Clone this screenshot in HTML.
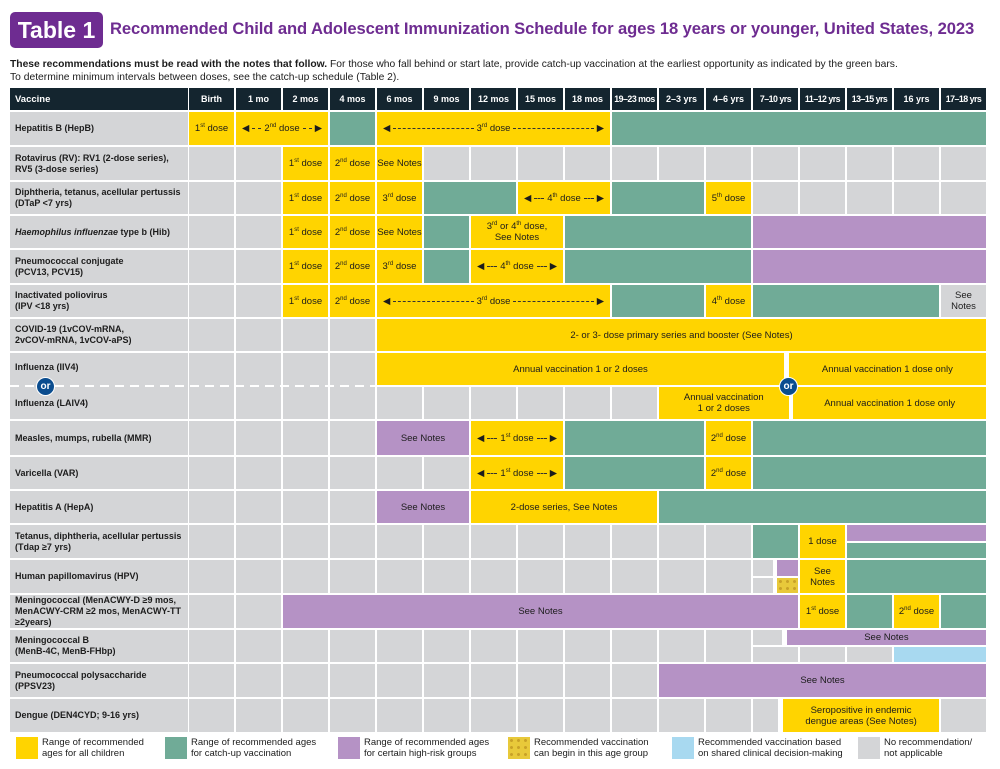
<!DOCTYPE html>
<html><head><meta charset="utf-8">
<style>
body{margin:0;width:1000px;height:769px;background:#fff;font-family:"Liberation Sans",sans-serif;position:relative;overflow:hidden;color:#1c1c1c}
.a{position:absolute;box-sizing:border-box}
.c{display:flex;align-items:center;justify-content:center;text-align:center;font-size:9.5px;line-height:11px}
.lab{font-size:9px;font-weight:bold;line-height:11px;padding-left:5px;display:flex;align-items:center}
.hd{background:#14252f;color:#fff;font-weight:bold;font-size:9.5px;white-space:nowrap}
sup{font-size:6px;vertical-align:4px;line-height:0}
.arr{display:flex;align-items:center;width:100%;padding:0 6px;box-sizing:border-box;white-space:nowrap}
.arr i{flex:1;border-top:1px dashed #333;margin:0 3px}
.lg{font-size:9.5px;line-height:11px}
</style></head><body>
<div class="a" style="left:10px;top:12px;width:93px;height:36px;background:#6e2c91;border-radius:5px;color:#fff;font-weight:bold;font-size:23px;display:flex;align-items:center;justify-content:center">Table 1</div>
<div class="a" style="left:110px;top:19px;font-size:16.6px;font-weight:bold;color:#6e2c91;white-space:nowrap;letter-spacing:-0.1px">Recommended Child and Adolescent Immunization Schedule for ages 18 years or younger, United States, 2023</div>
<div class="a" style="left:10px;top:59px;font-size:10.3px;line-height:12.5px;white-space:nowrap"><b>These recommendations must be read with the notes that follow.</b> For those who fall behind or start late, provide catch-up vaccination at the earliest opportunity as indicated by the green bars.<br>To determine minimum intervals between doses, see the catch-up schedule (Table 2).</div>
<div id="grid"></div>
<script>
const ages=["Birth","1 mo","2 mos","4 mos","6 mos","9 mos","12 mos","15 mos","18 mos","19–23 mos","2–3 yrs","4–6 yrs","7–10 yrs","11–12 yrs","13–15 yrs","16 yrs","17–18 yrs"];
const vaccines=["Hepatitis B (HepB)","Rotavirus (RV): RV1 (2-dose series),<br>RV5 (3-dose series)","Diphtheria, tetanus, acellular pertussis<br>(DTaP &lt;7 yrs)","<i>Haemophilus influenzae</i> type b (Hib)","Pneumococcal conjugate<br>(PCV13, PCV15)","Inactivated poliovirus<br>(IPV &lt;18 yrs)","COVID-19 (1vCOV-mRNA,<br>2vCOV-mRNA, 1vCOV-aPS)","FLU","Measles, mumps, rubella (MMR)","Varicella (VAR)","Hepatitis A (HepA)","Tetanus, diphtheria, acellular pertussis<br>(Tdap ≥7 yrs)","Human papillomavirus (HPV)","Meningococcal (MenACWY-D ≥9 mos,<br>MenACWY-CRM ≥2 mos, MenACWY-TT<br>≥2years)","Meningococcal B<br>(MenB-4C, MenB-FHbp)","Pneumococcal polysaccharide<br>(PPSV23)","Dengue (DEN4CYD; 9-16 yrs)"];
const rowTops=[112,147,182,216,250,285,319,353,421,457,491,525,560,595,630,664,699];
const rowBots=[145,180,214,248,283,317,351,419,455,489,523,558,593,628,662,697,732];
const d1="1<sup>st</sup> dose",d2="2<sup>nd</sup> dose",d3="3<sup>rd</sup> dose",SN="See Notes";
function A(t){return "ARR:"+t}
const spans=[
[[0,1,"Y",d1],[1,3,"Y",A(d2)],[3,4,"G"],[4,9,"Y",A(d3)],[9,17,"G"]],
[[2,3,"Y",d1],[3,4,"Y",d2],[4,5,"Y",SN]],
[[2,3,"Y",d1],[3,4,"Y",d2],[4,5,"Y",d3],[5,7,"G"],[7,9,"Y",A("4<sup>th</sup> dose")],[9,11,"G"],[11,12,"Y","5<sup>th</sup> dose"]],
[[2,3,"Y",d1],[3,4,"Y",d2],[4,5,"Y",SN],[5,6,"G"],[6,8,"Y","3<sup>rd</sup> or 4<sup>th</sup> dose,<br>See Notes"],[8,12,"G"],[12,17,"P"]],
[[2,3,"Y",d1],[3,4,"Y",d2],[4,5,"Y",d3],[5,6,"G"],[6,8,"Y",A("4<sup>th</sup> dose")],[8,12,"G"],[12,17,"P"]],
[[2,3,"Y",d1],[3,4,"Y",d2],[4,9,"Y",A(d3)],[9,11,"G"],[11,12,"Y","4<sup>th</sup> dose"],[12,16,"G"],[16,17,"N","See<br>Notes"]],
[[4,17,"Y","2- or 3- dose primary series and booster (See Notes)"]],
[[4,12.7,"Y","Annual vaccination 1 or 2 doses","t"],[12.76,17,"Y","Annual vaccination 1 dose only","t"],[10,12.8,"Y","Annual vaccination<br>1 or 2 doses","b"],[12.86,17,"Y","Annual vaccination 1 dose only","b"],[4,5,"N","","b"],[5,6,"N","","b"],[6,7,"N","","b"],[7,8,"N","","b"],[8,9,"N","","b"],[9,10,"N","","b"]],
[[4,6,"P",SN],[6,8,"Y",A(d1)],[8,11,"G"],[11,12,"Y",d2],[12,17,"G"]],
[[6,8,"Y",A(d1)],[8,11,"G"],[11,12,"Y",d2],[12,17,"G"]],
[[4,6,"P",SN],[6,10,"Y","2-dose series, See Notes"],[10,17,"G"]],
[[12,13,"G"],[13,14,"Y","1 dose"],[14,17,"P","","t"],[14,17,"G","","b"]],
[[12,12.47,"N","","t"],[12.5,13,"P","","t"],[12,12.47,"N","","b"],[12.5,13,"D","","b"],[13,14,"Y","See<br>Notes"],[14,17,"G"]],
[[2,13,"P",SN],[13,14,"Y",d1],[14,15,"G"],[15,16,"Y",d2],[16,17,"G"]],
[[12,12.66,"N","","t"],[12.72,17,"P",SN,"t"],[12,13,"N","","b"],[13,14,"N","","b"],[14,15,"N","","b"],[15,17,"B","","b"]],
[[10,17,"P",SN]],
[[12,12.58,"N"],[12.64,16,"Y","Seropositive in endemic<br>dengue areas (See Notes)"]]
];
const colors={Y:"#ffd400",G:"#70ab97",P:"#b592c5",N:"#d4d5d7",B:"#a8d9f0",D:"#e8c93a"};
const g=document.getElementById('grid');
function X(c){return 189+47*c}
function add(x,y,w,h,cls,html,st){const e=document.createElement('div');e.className='a '+cls;e.style.cssText=`left:${x}px;top:${y}px;width:${w}px;height:${h}px;`+(st||'');e.innerHTML=html||'';g.appendChild(e);return e}
let e=add(10,88,178,22,'hd lab','Vaccine');


ages.forEach((a,i)=>{const h=add(X(i),88,45,22,'hd c',a,'font-size:'+(a.length>7?'8.8px;letter-spacing:-0.5px':'9px'));

});
vaccines.forEach((v,r)=>{
 const t=rowTops[r],b=rowBots[r],h=b-t,mid=Math.round((t+b)/2);
 let lab;
 if(v==="FLU"){lab=add(10,t,178,h,'lab','','background:#d4d5d7;display:block');
  lab.innerHTML='<div style="position:absolute;top:9px;left:5px">Influenza (IIV4)</div><div style="position:absolute;top:45px;left:5px">Influenza (LAIV4)</div>';}
 else lab=add(10,t,178,h,'lab','<span>'+v+'</span>','background:#d4d5d7');
 
 
 const sp=spans[r];
 for(let c=0;c<17;c++){
  const cov=sp.some(s=>c>=Math.floor(s[0])&&c<Math.ceil(s[1]));
  if(!cov){const n=add(X(c),t,45,h,'','','background:#d4d5d7');
  
  }
 }
 sp.forEach(s=>{
  const x0=X(s[0]),x1=X(s[1])-2;
  let y0=t,y1=b;
  if(s[4]==='t')y1=mid-1; if(s[4]==='b')y0=mid+1;
  let txt=s[3]||'';
  if(txt.startsWith('ARR:'))txt='<div class="arr">◀<i></i><span>'+txt.slice(4)+'</span><i></i>▶</div>';
  else if(txt)txt='<span>'+txt+'</span>';
  let st='background:'+colors[s[2]];
  if(s[2]==='D')st+=';background-image:radial-gradient(#c9a227 28%,transparent 32%);background-size:7px 7px';
  const c=add(x0,y0,x1-x0,y1-y0,'c',txt,st);
  
  
 });
 if(v==="FLU"){
  const dl=add(10,385,978,2,'','','background:repeating-linear-gradient(90deg,#fff 0 9px,transparent 9px 15px)');
  
  
  [45,788].forEach(x=>{const o=add(x-9,377,19,19,'c','or','background:#0b4d8f;color:#fff;border-radius:50%;font-weight:bold;font-size:10px;border:1px solid #fff');
  
  });
 }
});
const legendText=["Range of recommended<br>ages for all children","Range of recommended ages<br>for catch-up vaccination","Range of recommended ages<br>for certain high-risk groups","Recommended vaccination<br>can begin in this age group","Recommended vaccination based<br>on shared clinical decision-making","No recommendation/<br>not applicable"];
const legendColor=["Y","G","P","D","B","N"];
const legendX=[16,165,338,508,672,858];
legendText.forEach((t,i)=>{
 let st='background:'+colors[legendColor[i]];
 if(legendColor[i]==='D')st+=';background-image:radial-gradient(#c9a227 28%,transparent 32%);background-size:7px 7px';
 const s=add(legendX[i],737,22,22,'',' ',st);
 
 
 const l=add(legendX[i]+26,737,160,24,'lg',t,'height:auto');
 
 
});
</script>
</body></html>
